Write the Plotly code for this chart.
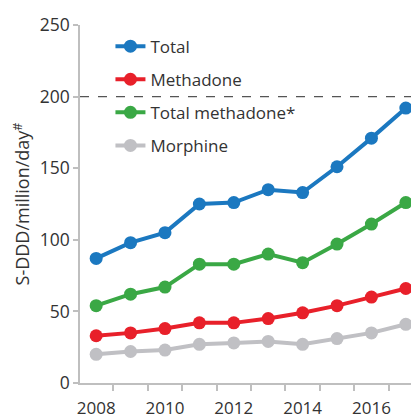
import plotly.graph_objects as go

years = [2008, 2009, 2010, 2011, 2012, 2013, 2014, 2015, 2016, 2017]
total = [87, 98, 105, 125, 126, 135, 133, 151, 171, 192]
methadone = [33, 35, 38, 42, 42, 45, 49, 54, 60, 66]
total_methadone = [54, 62, 67, 83, 83, 90, 84, 97, 111, 126]
morphine = [20, 22, 23, 27, 28, 29, 27, 31, 35, 41]
x_tick_labels = ["2008", "2010", "2012", "2014", "2016"]
x_tick_vals = [2008, 2010, 2012, 2014, 2016]
ref_level = 200

series = [
    ("Total", total, "#1b78c0"),
    ("Methadone", methadone, "#e8202a"),
    ("Total methadone*", total_methadone, "#3aa845"),
    ("Morphine", morphine, "#c0c0c4"),
]

fig = go.Figure()
for i, (name, vals, color) in enumerate(series):
    fig.add_trace(go.Scatter(
        x=years, y=vals, name=name, mode="lines+markers",
        line=dict(color=color, width=4),
        marker=dict(color=color, size=13),
        legendgroup=f"g{i}", cliponaxis=False,
    ))

fig.add_shape(type="line", xref="paper", x0=0, x1=1, yref="y", y0=ref_level, y1=ref_level,
              line=dict(color="#555555", width=1.2, dash="dash"))

font_family = "Open Sans, Noto Sans, sans-serif"
fig.update_layout(
    width=411, height=419,
    margin=dict(l=80, r=0, t=25, b=36),
    paper_bgcolor="white", plot_bgcolor="white",
    font=dict(family=font_family, color="#333333", size=17),
    legend=dict(x=0.092, y=0.99, xanchor="left", yanchor="top",
                font=dict(size=17, color="#333333"), tracegroupgap=8,
                bgcolor="rgba(0,0,0,0)"),
    showlegend=True,
)
fig.update_xaxes(
    range=[2007.53, 2017.15], tickvals=x_tick_vals, ticktext=x_tick_labels,
    ticks="", showgrid=False, zeroline=False, automargin=False,
    showline=True, linecolor="#bfbfbf", linewidth=1.5,
    tickfont=dict(size=17, color="#333333"), ticklabelstandoff=9,
    minor=dict(ticks="outside", tick0=2007.5, dtick=1, ticklen=6, tickcolor="#bfbfbf", tickwidth=1.5, showgrid=False),
)
fig.update_yaxes(
    range=[0, 250], tickvals=[0, 50, 100, 150, 200, 250],
    ticks="outside", ticklen=5, tickcolor="#bfbfbf", tickwidth=1.5,
    showgrid=False, zeroline=False, automargin=False,
    showline=True, linecolor="#bfbfbf", linewidth=1.5,
    tickfont=dict(size=17.5, color="#333333"),
    title=dict(text="S-DDD/million/day<sup>#</sup>", font=dict(size=18, color="#333333"), standoff=5),
)
fig.write_html("out.html", post_script="document.body.style.margin='0';",
               config={"displayModeBar": False})
